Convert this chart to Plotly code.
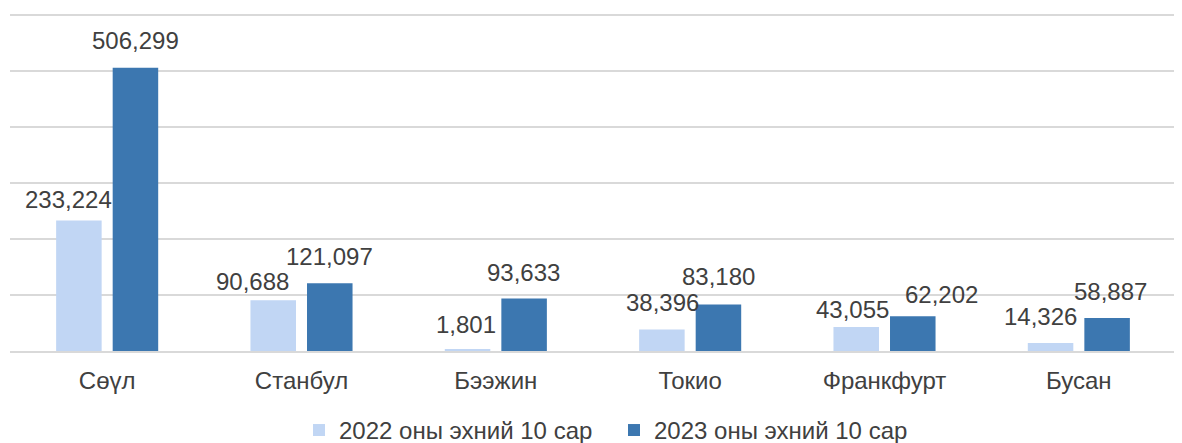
import plotly.graph_objects as go

cities = ["Сөүл", "Станбул", "Бээжин", "Токио", "Франкфурт", "Бусан"]
series_names = ["2022 оны эхний 10 сар", "2023 оны эхний 10 сар"]
values_2022 = [233224, 90688, 1801, 38396, 43055, 14326]
values_2023 = [506299, 121097, 93633, 83180, 62202, 58887]

# label nudges (px) so labels sit like in the original
shift_x_2022 = [-11, -21, -2, 0, -4, -10]
shift_x_2023 = [0, 0, 0, 0, 29, 4]
shift_y_2022 = [5, 3, 10, 12, 2, 11]
shift_y_2023 = [12, 11, 11, 12, 6, 11]

colors = ["#c1d6f4", "#3c77b0"]
text_color = "#404040"
font_family = "Liberation Sans, Arial, sans-serif"

fig = go.Figure()
for name, vals, col in zip(series_names, [values_2022, values_2023], colors):
    fig.add_trace(go.Bar(
        x=cities, y=vals, name=name,
        marker=dict(color=col, line=dict(width=0)),
    ))

bar_offset = 28
for vals, sx, sy, side in [(values_2022, shift_x_2022, shift_y_2022, -1),
                           (values_2023, shift_x_2023, shift_y_2023, 1)]:
    for city, v, dx, dy in zip(cities, vals, sx, sy):
        fig.add_annotation(
            x=city, y=v, text=f"{v:,}", showarrow=False,
            xanchor="center", yanchor="bottom",
            xshift=side * bar_offset + dx, yshift=dy,
            font=dict(size=24, color=text_color, family=font_family),
        )

# page has an 8px body margin, so the figure is sized a little smaller
fig.update_layout(
    width=1174, height=435,
    margin=dict(l=2, r=6, t=5, b=92, autoexpand=False),
    plot_bgcolor="white", paper_bgcolor="white",
    bargap=0.418, bargroupgap=0.195,
    font=dict(family=font_family, color=text_color, size=24),
    showlegend=True,
    legend=dict(
        orientation="h", x=0.518, xanchor="center", y=-0.235, yanchor="middle",
        font=dict(size=24, color=text_color),
        entrywidth=270, entrywidthmode="pixels",
        traceorder="normal",
    ),
    xaxis=dict(
        showgrid=False, showline=True, linecolor="#d9d9d9", linewidth=2,
        ticks="", ticklabelstandoff=7, automargin=False,
        tickfont=dict(size=24, color=text_color),
    ),
    yaxis=dict(
        range=[0, 604000], dtick=100000, showticklabels=False,
        showgrid=True, gridcolor="#d9d9d9", gridwidth=2,
        zeroline=False, showline=False, automargin=False,
    ),
)

fig.write_html("out.html")
